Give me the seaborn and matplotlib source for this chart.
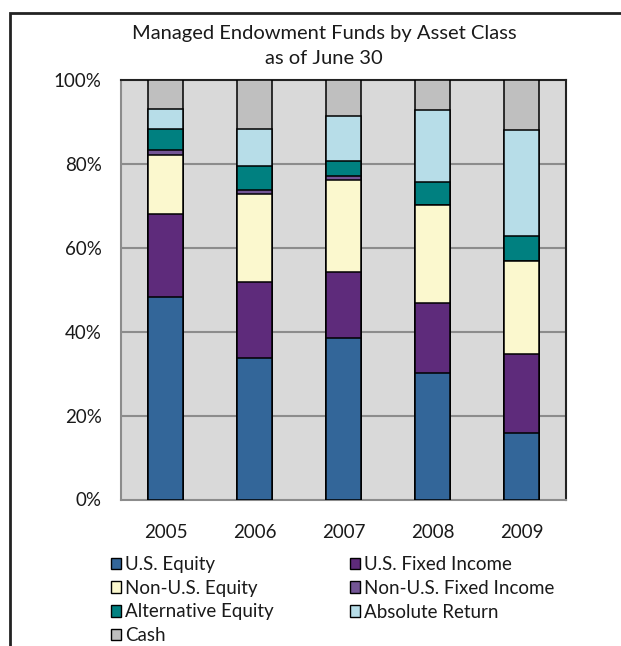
import numpy as np
import pandas as pd
import matplotlib
matplotlib.use("Agg")
import matplotlib.pyplot as plt
from matplotlib.patches import Patch, Rectangle
import seaborn as sns

# Values (percent of endowment, as of June 30)
years = ["2005", "2006", "2007", "2008", "2009"]
asset_classes = ["U.S. Equity", "U.S. Fixed Income", "Non-U.S. Equity",
                 "Non-U.S. Fixed Income", "Alternative Equity",
                 "Absolute Return", "Cash"]
us_equity = [48.2, 33.8, 38.4, 30.2, 15.9]
us_fixed_income = [19.9, 18.1, 15.9, 16.6, 18.8]
non_us_equity = [14.1, 21.0, 21.9, 23.4, 22.2]
non_us_fixed_income = [1.0, 0.8, 0.9, 0.0, 0.0]
alternative_equity = [5.1, 5.7, 3.7, 5.6, 6.0]
absolute_return = [4.7, 9.0, 10.7, 17.1, 25.3]
cash = [7.0, 11.6, 8.5, 7.1, 11.8]
y_ticks = [0, 20, 40, 60, 80, 100]

colors = ["#336699", "#5E2B7B", "#FBF8CE", "#735595",
          "#008080", "#B7DDE8", "#BFBFBF"]

series = [us_equity, us_fixed_income, non_us_equity, non_us_fixed_income,
          alternative_equity, absolute_return, cash]

sns.set_style("white")
plt.rcParams["font.family"] = ["Lato", "DejaVu Sans"]
text_color = "#1a1a1a"
grid_color = "#8c8c8c"

fig = plt.figure(figsize=(6.21, 6.46), dpi=100)
ax = fig.add_axes([121 / 621, 1 - 499.5 / 646, 445 / 621, 419.5 / 646])
ax.set_facecolor("#D9D9D9")

# stacked bars: draw cumulative tops from the top layer down
tops = np.cumsum(np.array(series), axis=0)
for i in range(len(series) - 1, -1, -1):
    df = pd.DataFrame({"year": years, "top": tops[i]})
    sns.barplot(data=df, x="year", y="top", order=years, color=colors[i],
                width=0.4, edgecolor="black", linewidth=1.1,
                saturation=1, ax=ax, zorder=3)

ax.set_xlim(-0.5, len(years) - 0.5)
ax.set_ylim(0, 100)
ax.set_yticks(y_ticks)
ax.set_yticklabels([f"{t}%" for t in y_ticks])
ax.set_xlabel("")
ax.set_ylabel("")

for t in y_ticks[1:-1]:
    ax.axhline(t, color=grid_color, linewidth=1.5, zorder=1)

ax.set_xticks(range(len(years)))
ax.set_xticklabels(years)
ax.set_xticks(np.arange(-0.5, len(years), 1.0), minor=True)
ax.tick_params(axis="x", which="major", length=0, pad=18,
               labelsize=13.5, labelcolor=text_color)
ax.tick_params(axis="x", which="minor", length=6, width=1.5,
               color=grid_color, direction="out")
ax.tick_params(axis="y", length=5, width=1.5, color=grid_color,
               direction="out", pad=9, labelsize=13.5, labelcolor=text_color)

for side in ["left", "bottom"]:
    ax.spines[side].set_color(grid_color)
    ax.spines[side].set_linewidth(1.5)
for side in ["top", "right"]:
    ax.spines[side].set_visible(True)
    ax.spines[side].set_color("#222222")
    ax.spines[side].set_linewidth(1.5)

fig.text(324 / 621, 1 - 33 / 646, "Managed Endowment Funds by Asset Class",
         ha="center", va="center", fontsize=14.5, color=text_color)
fig.text(324 / 621, 1 - 58 / 646, "as of June 30",
         ha="center", va="center", fontsize=14.5, color=text_color)

# legend, column-major order so it reads row by row like the original
order = [0, 2, 4, 6, 1, 3, 5]
handles = [Patch(facecolor=colors[i], edgecolor="black", linewidth=1)
           for i in order]
labels = [asset_classes[i] for i in order]
fig.legend(handles, labels, ncol=2, loc="upper left",
           bbox_to_anchor=(111 / 621, 1 - 556 / 646), frameon=False,
           fontsize=13.5, handlelength=0.55, handleheight=0.55,
           handletextpad=0.2, labelspacing=0.36, columnspacing=4.05,
           labelcolor=text_color, borderpad=0, borderaxespad=0)

# outer frame of the exhibit (cropped on the right and bottom)
fig.patches.append(Rectangle((10 / 621, -0.1), 1.2, 0.1 + (1 - 13 / 646),
                             transform=fig.transFigure, fill=False,
                             edgecolor="#222222", linewidth=2))

fig.savefig("out.png", dpi=100)
